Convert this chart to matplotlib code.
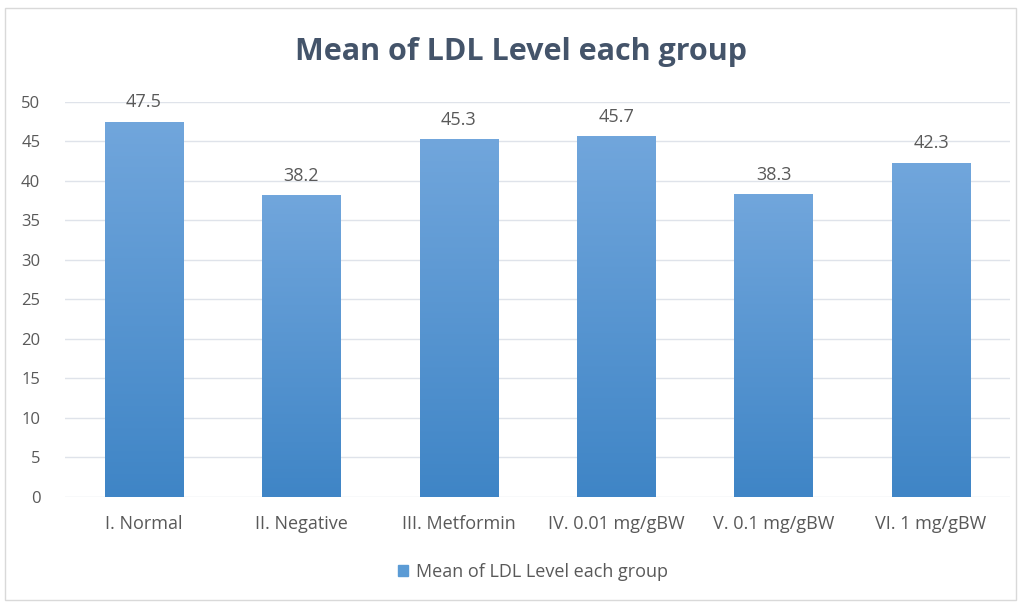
import numpy as np
import matplotlib.pyplot as plt
from matplotlib.colors import LinearSegmentedColormap
from matplotlib.patches import Rectangle

plt.rcParams['font.family'] = ['Open Sans', 'DejaVu Sans']

groups = ['I. Normal', 'II. Negative', 'III. Metformin', 'IV. 0.01 mg/gBW',
          'V. 0.1 mg/gBW', 'VI. 1 mg/gBW']
ldl_mean = [47.5, 38.2, 45.3, 45.7, 38.3, 42.3]
series_name = 'Mean of LDL Level each group'

txt = '#595959'
fig = plt.figure(figsize=(10.21, 6.03), dpi=100)
fig.patches.append(Rectangle((0.005, 0.005), 0.99, 0.982, transform=fig.transFigure,
                             fill=False, edgecolor='#d9d9d9', lw=1))
ax = fig.add_axes([0.064, 0.176, 0.925, 0.655])

x = np.arange(len(groups))
bars = ax.bar(x, ldl_mean, width=0.5, color='#5b9bd5', label=series_name, zorder=2)

# vertical gradient on each bar
cmap = LinearSegmentedColormap.from_list('g', ['#3f85c6', '#71a6dc'])
grad = np.linspace(0, 1, 256).reshape(-1, 1)
for b in bars:
    b.set_facecolor('none')
    im = ax.imshow(grad, cmap=cmap, aspect='auto', origin='lower', zorder=2,
                   extent=[b.get_x(), b.get_x() + b.get_width(), 0, b.get_height()])
    im.set_clip_path(b)
    ax.text(b.get_x() + b.get_width() / 2, b.get_height() + 1.3, f'{b.get_height():.1f}',
            ha='center', va='bottom', fontsize=13, color=txt)

ax.set_xlim(-0.5, len(groups) - 0.5)
ax.set_ylim(0, 50)
ax.set_yticks(range(0, 51, 5))
ax.set_xticks(x)
ax.set_xticklabels(groups)
ax.tick_params(length=0, labelsize=13, labelcolor=txt)
ax.tick_params(axis='y', labelsize=12)
ax.tick_params(axis='x', pad=13)
ax.tick_params(axis='y', pad=18)
ax.grid(axis='y', color='#dfe3ea', lw=1, zorder=0)
for s in ax.spines.values():
    s.set_visible(False)

fig.text(0.51, 0.913, 'Mean of LDL Level each group', ha='center', va='center',
         fontsize=22, fontweight='bold', color='#44546a')

handle = Rectangle((0, 0), 1, 1, color='#5b9bd5')
fig.legend([handle], [series_name], loc='center', bbox_to_anchor=(0.522, 0.052),
           frameon=False, fontsize=13, labelcolor=txt, handlelength=0.55,
           handleheight=0.55, handletextpad=0.4)

fig.savefig('out.png', dpi=100)
